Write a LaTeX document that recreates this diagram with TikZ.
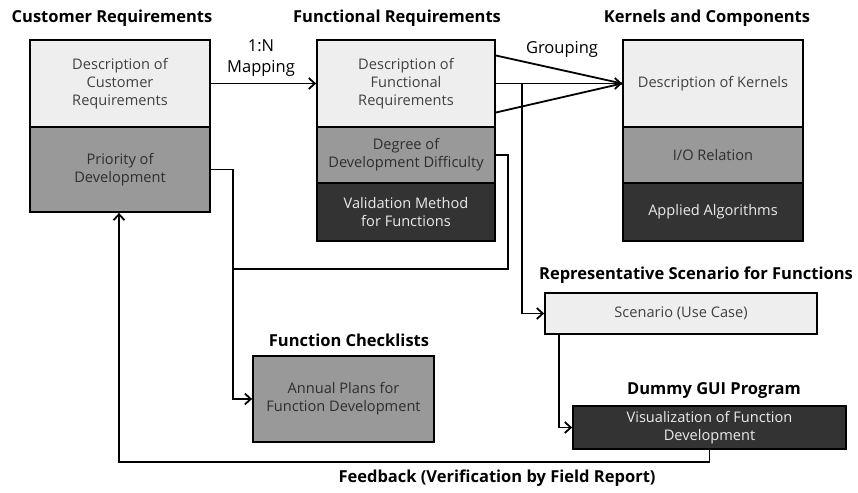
\documentclass[tikz,border=0pt]{standalone}
\usepackage{fontspec}
\setmainfont{Open Sans}
\usetikzlibrary{arrows.meta}
\definecolor{lightsec}{HTML}{EEEEEE}
\definecolor{midsec}{HTML}{999999}
\definecolor{darksec}{HTML}{333333}

\begin{document}
\begin{tikzpicture}[x=1pt,y=-1pt,
    >={Straight Barb[length=6pt,width=11pt,line width=1.8pt]},
    sec/.style={draw=black, line width=1.8pt, inner sep=0pt, align=center,
        font=\fontsize{14.6}{18}\selectfont},
    lightbox/.style={sec, fill=lightsec, text=black!75},
    midbox/.style={sec, fill=midsec, text=black!82},
    darkbox/.style={sec, fill=darksec, text=white!92!black},
    heading/.style={font=\fontsize{16.5}{19}\selectfont\bfseries, inner sep=0pt},
    link/.style={line width=1.8pt, draw=black},
    label/.style={font=\fontsize{16.5}{21}\selectfont, align=center, inner sep=0pt}]
\useasboundingbox (0,0) rectangle (858,492);

% headings
\node[heading] (hcr) at (112,18) {Customer Requirements};
\node[heading] (hfr) at (397,18) {Functional Requirements};
\node[heading] (hkc) at (707,18) {Kernels and Components};
\node[heading] (hsc) at (696,275) {Representative Scenario for Functions};
\node[heading] (hap) at (349,340) {Function Checklists};
\node[heading] (hvg) at (714,391) {Dummy GUI Program};

% customer requirements
\node[lightbox, minimum width=180, minimum height=87] (cr1) at (120,83.5) {Description of\\Customer\\Requirements};
\node[midbox, minimum width=180, minimum height=85] (cr2) at (120,169.5) {Priority of\\Development};

% functional requirements
\node[lightbox, minimum width=178, minimum height=87] (fr1) at (406,83.5) {Description of\\Functional\\Requirements};
\node[midbox, minimum width=178, minimum height=56] (fr2) at (406,155) {Degree of\\Development Difficulty};
\node[darkbox, minimum width=178, minimum height=58] (fr3) at (406,212) {Validation Method\\for Functions};

% kernels and components
\node[lightbox, minimum width=180, minimum height=87] (kc1) at (713,83.5) {Description of Kernels};
\node[midbox, minimum width=180, minimum height=56] (kc2) at (713,155) {I/O Relation};
\node[darkbox, minimum width=180, minimum height=58] (kc3) at (713,212) {Applied Algorithms};

% scenario, checklist, gui
\node[lightbox, minimum width=272, minimum height=41] (sc) at (681,313.5) {Scenario (Use Case)};
\node[midbox, minimum width=181, minimum height=86] (ap) at (343.5,399) {Annual Plans for\\Function Development};
\node[darkbox, minimum width=273, minimum height=43] (vg) at (709.5,427.5) {Visualization of Function\\Development};

% connectors
\draw[link,->] (cr1.east) -- (fr1.west);
\node[label] (map) at (261,58) {1:N\\Mapping};

\draw[link] ([yshift=28pt]fr1.east) -- (kc1.west);
\draw[link] ([yshift=-29pt]fr1.east) -- (kc1.west);
\draw[link,->] (fr1.east) -- (kc1.west);
\node[label] (grp) at (562,49) {Grouping};

\coordinate (split) at (522,83.5);
\draw[link,->] (split) |- (sc.west);

\coordinate (join) at (233,269);
\draw[link] (fr2.east) -| (508,269) -- (join);
\draw[link,->] (cr2.east) -| (join) |- (ap.west);

\draw[link,->] ([xshift=15pt]sc.south west) |- (vg.west);

\coordinate (fb) at (119,462);
\draw[link,->] (vg.south) |- (fb) -- (fb |- cr2.south);
\node[heading] (fbl) at (497,478) {Feedback (Verification by Field Report)};
\end{tikzpicture}
\end{document}
